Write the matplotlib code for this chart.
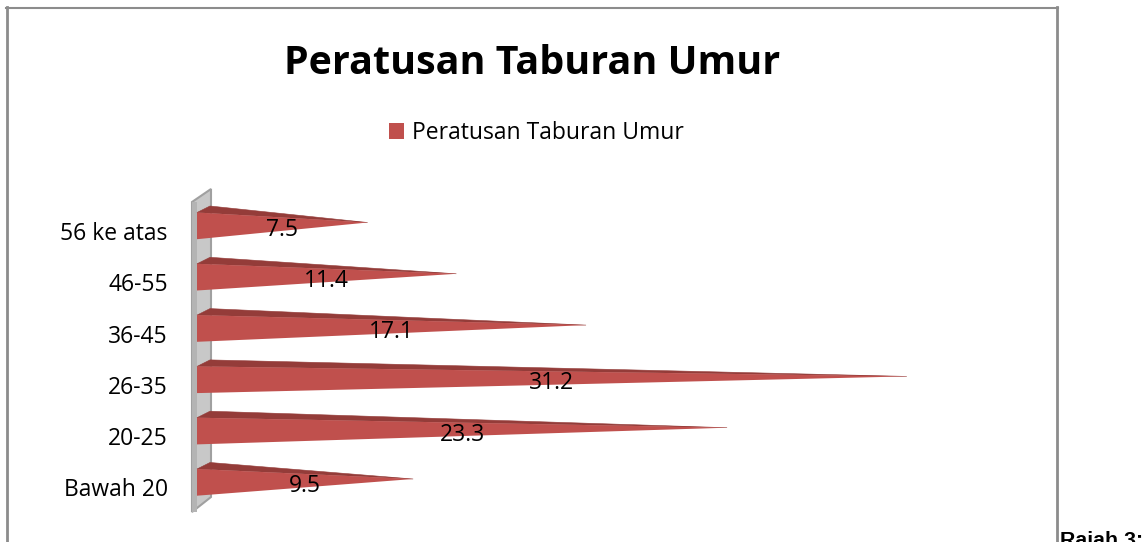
import matplotlib
matplotlib.use("Agg")
import matplotlib.pyplot as plt
from matplotlib.lines import Line2D
from matplotlib.patches import Patch

plt.rcParams['font.family'] = ['Open Sans', 'DejaVu Sans']

categories = ['Bawah 20', '20-25', '26-35', '36-45', '46-55', '56 ke atas']
values = [9.5, 23.3, 31.2, 17.1, 11.4, 7.5]
title = 'Peratusan Taburan Umur'

W, H = 1145, 542
front = '#c0504d'
top = '#943c39'

fig = plt.figure(figsize=(W / 100, H / 100), dpi=100, facecolor='white')

# axes: x=0 at the wall, y=0 on the first label
x0, x1 = 197, 1057
y0, y1 = 487.5, 192
ax = fig.add_axes([x0 / W, 1 - y0 / H, (x1 - x0) / W, (y0 - y1) / H])
px_x = 22.75      # pixels per percent
px_y = 51.3       # pixels per category
ax.set_xlim(0, (x1 - x0) / px_x)
ax.set_ylim(0, (y0 - y1) / px_y)
ax.patch.set_visible(False)
for s in ax.spines.values():
    s.set_visible(False)

# the grey wall behind the bars
wall_x = [-5 / px_x, 14 / px_x, 14 / px_x, -5 / px_x]
wall_y = [-24.5 / px_y, -9.5 / px_y, 298.5 / px_y, 285.5 / px_y]
ax.fill(wall_x, wall_y, fc='#c8c8c8', ec='#a0a0a0', lw=1.5, clip_on=False, zorder=1)
ax.fill([-5 / px_x, 0, 0, -5 / px_x], [-24.5 / px_y, -24.5 / px_y, 285.5 / px_y, 285.5 / px_y],
        fc='#b4b4b4', ec='none', clip_on=False, zorder=1)

# 3D cones, tip is a bit above the middle of the front face
for i, v in enumerate(values):
    up = i + 18.5 / px_y
    down = i - 8.2 / px_y
    tip = i + 8.5 / px_y
    ax.fill([0, 13 / px_x, v], [up, up + 6.5 / px_y, tip], fc=top, ec=top, lw=0.4, clip_on=False, zorder=2)
    ax.fill([0, v, 0], [up, tip, down], fc=front, ec='none', clip_on=False, zorder=3)
    ax.text(v / 2, i + 1.5 / px_y, str(v), ha='center', va='center', fontsize=16.5,
            color='black', zorder=4)

ax.set_xticks([])
ax.set_yticks(range(len(categories)))
ax.set_yticklabels(categories, fontsize=16.5, color='black')
ax.tick_params(axis='y', length=0, pad=21)

fig.text(532 / W, 1 - 63 / H, title, ha='center', va='center', fontsize=28.4, fontweight='bold')

handles = [Patch(fc=front, ec='none', label=title)]
fig.legend(handles=handles, loc='center', bbox_to_anchor=(536.5 / W, 1 - 133 / H), frameon=False,
           fontsize=16.5, handlelength=0.65, handleheight=0.65, handletextpad=0.35)

# outer frame, goes on past the bottom of the image
grey = '#8c8c8c'
fig.add_artist(Line2D([7 / W, 7 / W], [0, 1 - 7 / H], color=grey, lw=2))
fig.add_artist(Line2D([6 / W, 1058 / W], [1 - 7.5 / H, 1 - 7.5 / H], color=grey, lw=1.5))
fig.add_artist(Line2D([1057 / W, 1057 / W], [0, 1 - 7 / H], color=grey, lw=2))

fig.text(1060 / W, 1 - 546 / H, 'Rajah 3:', ha='left', va='baseline', fontsize=15.4,
         fontweight='bold', family='Liberation Sans')

fig.savefig('out.png', dpi=100)
